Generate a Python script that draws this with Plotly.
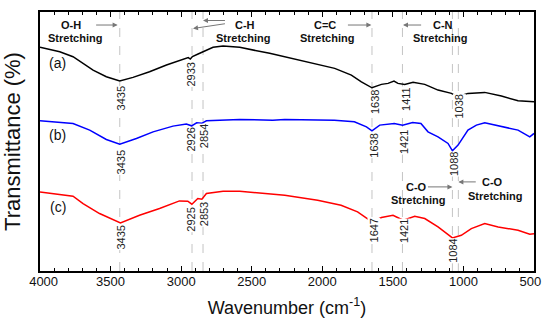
import plotly.graph_objects as go

# ---- data (wavenumber in cm-1, transmittance in arbitrary offset units) ----
wn_a = [4000, 3860, 3766, 3695, 3624, 3530, 3435, 3341, 3224, 3104, 2987, 2950, 2935, 2920, 2880,
        2845, 2774, 2703, 2585, 2373, 2266, 2077, 1912, 1794, 1723, 1648, 1581, 1534, 1492, 1464,
        1416, 1357, 1274, 1180, 1085, 1043, 968, 849, 731, 613, 500]
t_a = [252.7, 248.3, 243.3, 236.7, 230, 223.3, 219, 222.7, 228.3, 235, 241, 242.5, 241, 243.5, 246,
       248.3, 252.7, 254, 252.7, 246.7, 243.3, 236.7, 231.7, 225, 218.3, 212.3, 215.7, 216.7, 219, 216.7,
       215.7, 217.7, 215.7, 210, 206.7, 203.3, 206.7, 207.7, 204, 199.3, 198.3]

wn_b = [4000, 3766, 3648, 3530, 3435, 3317, 3199, 3058, 2963, 2926, 2890, 2854, 2821, 2585, 2351,
        2266, 1914, 1773, 1687, 1648, 1593, 1490, 1431, 1360, 1301, 1251, 1180, 1109, 1078, 1038,
        968, 908, 849, 778, 684, 613, 530, 500]
t_b = [179.3, 176.7, 170, 160.7, 156, 161.7, 168.3, 174, 176, 174.3, 177.3, 176.8, 179.3, 180.7, 180,
       180.7, 180, 178.3, 173.3, 169.3, 175, 176.7, 175, 177.7, 176.7, 168.3, 163.3, 156.7, 149.3, 155,
       170, 175, 177.3, 175, 172.7, 170, 163.3, 166.7]

wn_c = [4000, 3766, 3695, 3578, 3430, 3295, 3153, 3012, 2953, 2924, 2882, 2853, 2821, 2703, 2585,
        2351, 2266, 2033, 1867, 1750, 1648, 1581, 1499, 1452, 1426, 1345, 1274, 1180, 1078, 1015,
        944, 849, 754, 613, 530, 500]
t_c = [108.3, 104, 96.7, 86.7, 77.3, 85, 91.7, 99.3, 99, 96, 101.7, 101, 106.7, 109, 109,
       106, 105, 100, 95, 88.3, 78.3, 82.7, 85, 81.7, 80, 84, 81.7, 73.3, 62.3, 65,
       71.7, 76.7, 73.3, 70, 66, 66.5]

series_names = ["(a)", "(b)", "(c)"]
series_colors = ["#000000", "#0000ff", "#ff0000"]
series_label_y = [237, 165, 93]

x_tick_vals = [4000, 3500, 3000, 2500, 2000, 1500, 1000, 500]
x_tick_text = ["&nbsp;&nbsp;4000", "3500", "3000", "2500", "2000", "1500", "1000", "500&nbsp;&nbsp;"]

# dashed guide lines (cm-1)
guide_lines = [3435, 2923, 2845, 1648, 1432, 1078, 1036]

# peak labels
peak_text = ["3435", "2933", "1638", "1411", "1038",
             "3435", "2926", "2854", "1638", "1421", "1088",
             "3435", "2925", "2853", "1647", "1421", "1084"]
peak_x = [3424, 2927, 1630, 1406, 1028,
          3424, 2927, 2838, 1630, 1422, 1068,
          3424, 2927, 2838, 1632, 1422, 1070]
peak_y = [202, 226, 197.5, 201.3, 194,
          138, 161, 164, 154, 158, 136,
          63, 81, 86, 70, 69, 49]

# band assignments: label, text x, top-line y, arrows (head x, head y, tail x, tail y)
band_text = ["O-H", "C-H", "C=C", "C-N", "C-O", "C-O"]
band_x = [3778, 2550, 1983, 1145, 1333, 795]
band_y = [275, 275, 275, 275, 113.3, 118.3]
band_x2 = [3754, 2564, 1967, 1163, 1322, 778]
band_y2 = [262.3, 262, 262, 262, 100, 104]
arrows = [(3450, 275, 3613, 275),
          (2845, 279.5, 2679, 279.5),
          (2916, 271.5, 2679, 276.5),
          (1652, 275, 1829, 275),
          (1428, 275, 1289, 275),
          (1078, 113.3, 1262, 113.3),
          (1036, 118.3, 902, 118.3)]

fig = go.Figure()
for wn, t, name, col in zip([wn_a, wn_b, wn_c], [t_a, t_b, t_c], series_names, series_colors):
    fig.add_trace(go.Scatter(x=wn, y=t, mode="lines", name=name,
                             line=dict(color=col, width=1.5), showlegend=False))

for gx in guide_lines:
    fig.add_shape(type="line", xref="x", yref="paper", x0=gx, x1=gx, y0=0, y1=1,
                  line=dict(color="#c4c4c4", width=1, dash="dash"), layer="below")

ann = []
for txt, x, y in zip(peak_text, peak_x, peak_y):
    ann.append(dict(x=x, y=y, xref="x", yref="y", text=txt, showarrow=False, textangle=-90,
                    font=dict(size=11, color="#222222"), bgcolor="white", borderpad=0))
for name, y in zip(series_names, series_label_y):
    ann.append(dict(x=3874, y=y, xref="x", yref="y", text=name, showarrow=False,
                    font=dict(size=14, color="#111111")))
for txt, x, y, x2, y2 in zip(band_text, band_x, band_y, band_x2, band_y2):
    ann.append(dict(x=x, y=y, xref="x", yref="y", text="<b>%s</b>" % txt, showarrow=False,
                    font=dict(size=11, color="#111111")))
    ann.append(dict(x=x2, y=y2, xref="x", yref="y", text="<b>Stretching</b>", showarrow=False,
                    font=dict(size=11, color="#111111")))
for hx, hy, tx, ty in arrows:
    ann.append(dict(x=hx, y=hy, xref="x", yref="y", ax=tx, ay=ty, axref="x", ayref="y",
                    text="", showarrow=True, arrowhead=2, arrowsize=1, arrowwidth=1,
                    arrowcolor="#777777"))

fig.update_layout(
    width=550, height=326, autosize=False,
    margin=dict(l=40, r=16, t=12, b=55),
    paper_bgcolor="white", plot_bgcolor="white",
    font=dict(family="Liberation Sans, Arial, sans-serif", color="#111111"),
    annotations=ann,
    xaxis=dict(range=[4000, 500], tickvals=x_tick_vals, ticktext=x_tick_text,
               ticks="inside", ticklen=5, tickwidth=1, tickcolor="black",
               minor=dict(dtick=100, ticks="inside", ticklen=3, tickcolor="black", tickwidth=1),
               showline=True, linecolor="black", linewidth=1.5, mirror="allticks",
               showgrid=False, zeroline=False, tickfont=dict(size=13, color="#111111"),
               ticklabelstandoff=-2, automargin=False,
               title=dict(text="Wavenumber (cm<sup>-1</sup>)", font=dict(size=18), standoff=13)),
    yaxis=dict(range=[29.3, 288], showticklabels=False, ticks="",
               showline=True, linecolor="black", linewidth=1.5, mirror=True,
               showgrid=False, zeroline=False, automargin=False,
               title=dict(text="Transmittance (%)", font=dict(size=22), standoff=12)),
)

fig.write_html("out.html", config={"displayModeBar": False},
               post_script="document.body.style.margin='0';")
